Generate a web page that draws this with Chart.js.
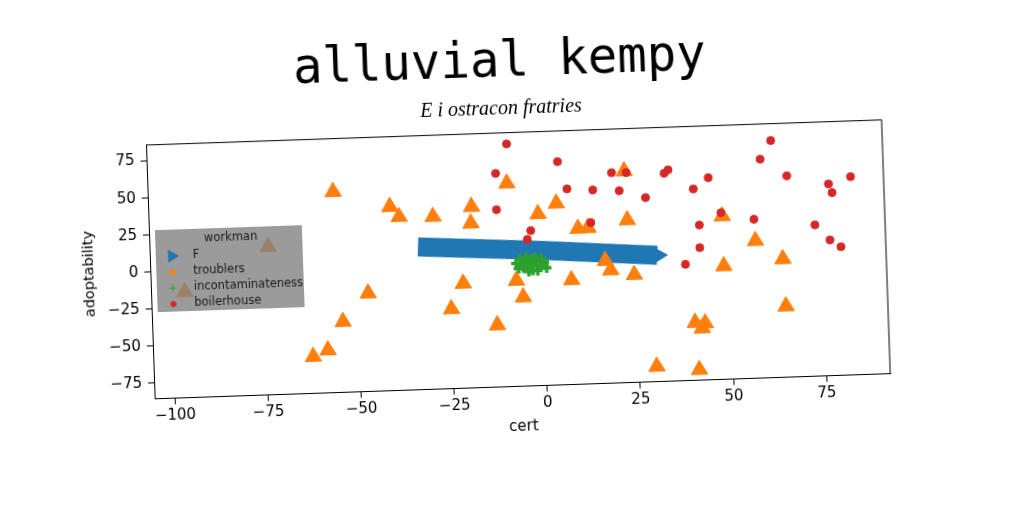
<!DOCTYPE html>
<html>
<head>
<meta charset="utf-8">
<script src="https://cdn.jsdelivr.net/npm/chart.js@4.4.1/dist/chart.umd.min.js"></script>
<style>
  html, body { margin: 0; padding: 0; background: #fff; overflow: hidden; width: 1024px; height: 512px; }
  #wrap { width: 1024px; height: 512px; transform: rotate(-1.96deg); transform-origin: 512px 256px; }
</style>
</head>
<body>
<div id="wrap"><canvas id="c" width="1024" height="512"></canvas></div>
<script>
// texts
const TITLE = "alluvial kempy";
const SUBTITLE = "E i ostracon fratries";
const X_LABEL = "cert";
const Y_LABEL = "adoptability";
const LEGEND_TITLE = "workman";
const SERIES = ["F", "troublers", "incontaminateness", "boilerhouse"];

// axes
const X_MIN = -105.45, X_MAX = 92.15;
const Y_MIN = -85.6, Y_MAX = 85.8;
const xTicks = [-100, -75, -50, -25, 0, 25, 50, 75];
const yTicks = [-75, -50, -25, 0, 25, 50, 75];

// F (dense band read as its ends and middle)
const fX = [-33.4, 0.1, 30.7];
const fY = [10.8, 5.5, -0.4];

// troublers
const trX = [-55.7, -40.6, -38.2, -29.1, -18.7, -19.0, -9.0, -0.9, -21.6, -47.2, -25.0, -7.3, -5.6,
  -12.8, -54.2, -58.5, -62.5, -73.6, -96.4, 22.6, 4.1, 23.0, 9.7, 12.4, 48.5, 57.2, 16.7, 18.1,
  24.4, 48.5, 64.4, 7.5, 40.3, 43.0, 42.1, 64.8, 29.6, 41.0];
const trY = [50.0, 38.6, 31.6, 30.9, 36.7, 25.5, 51.7, 30.3, -14.8, -19.3, -31.8, -14.1, -25.4,
  -43.7, -37.9, -56.7, -60.8, 14.4, -14.0, 57.2, 37.0, 24.1, 19.5, 19.8, 24.6, 7.2, -2.8, -9.2,
  -12.9, -9.1, -5.7, -15.0, -46.6, -47.2, -50.5, -37.6, -75.3, -78.5];

// incontaminateness
const inX = [-7.2, -6.1, -5.3, -4.4, -3.6, -2.8, -1.9, -1.0, 0.3, 0.9, -6.6, -5.0, -3.9, -2.2,
  -0.6, -4.8, -3.0, -1.5, -5.8, 0.2];
const inY = [-2.5, 0.4, -5.8, 1.2, -3.1, -7.6, -0.8, -4.9, -2.2, -6.3, -6.1, -1.9, -8.2, 1.0,
  0.2, -4.4, -0.2, -7.9, -3.9, -4.0];

// boilerhouse
const boX = [-8.7, 4.8, -11.9, 19.2, 23.1, 33.3, 34.4, 45.1, 62.2, 59.2, 66.2, 83.3, 77.3, 78.2,
  7.1, 14.0, 21.1, 28.1, 41.0, -12.0, 48.2, 57.0, 13.2, -3.0, -4.0, 42.3, 73.3, 77.2, 80.1, 42.2, 38.2];
const boY = [78.2, 65.1, 58.6, 56.4, 56.1, 54.8, 57.0, 50.8, 74.4, 62.1, 50.2, 48.2, 43.8, 37.9,
  46.5, 45.2, 44.1, 38.8, 43.6, 34.1, 26.9, 21.7, 23.2, 19.2, 13.4, 19.1, 16.5, 6.0, 1.2, 3.8, -7.1];

const BLUE = "#1f77b4", ORANGE = "#ff7f0e", GREEN = "#2ca02c", RED = "#d62728";
const FONT = "'DejaVu Sans', sans-serif";

const pts = (xs, ys) => xs.map((x, i) => ({ x, y: ys[i] }));
const pm = (v) => (v < 0 ? "\u2212" + Math.abs(v) : String(v));

// top/right spines
const framePlugin = {
  id: "frame",
  afterDatasetsDraw(chart) {
    const { ctx, chartArea: a } = chart;
    ctx.save();
    ctx.strokeStyle = "#000";
    ctx.lineWidth = 1;
    ctx.beginPath();
    ctx.moveTo(a.left, a.top);
    ctx.lineTo(a.right, a.top);
    ctx.lineTo(a.right, a.bottom);
    ctx.stroke();
    ctx.restore();
  },
};

// legend box inside the plot, like matplotlib's
const boxLegend = {
  id: "boxLegend",
  afterDraw(chart) {
    const { ctx, chartArea: a } = chart;
    const left = a.left + 6, top = a.top + 85.4, w = 147, h = 82;
    const marks = [
      { pointStyle: "triangle", rotation: 90, radius: 7.5, borderWidth: 0 },
      { pointStyle: "triangle", rotation: 0, radius: 4.5, borderWidth: 0 },
      { pointStyle: "cross", rotation: 0, radius: 4, borderWidth: 2.5 },
      { pointStyle: "circle", rotation: 0, radius: 3, borderWidth: 0 },
    ];
    ctx.save();
    ctx.fillStyle = "rgba(130,130,130,0.8)";
    ctx.fillRect(left, top, w, h);
    ctx.fillStyle = "#1a1a1a";
    ctx.font = "11.5px " + FONT;
    ctx.textBaseline = "middle";
    ctx.textAlign = "center";
    ctx.fillText(LEGEND_TITLE, left + w / 2 + 2, top + 10);
    ctx.textAlign = "left";
    chart.data.datasets.forEach((ds, i) => {
      const y = top + 26.5 + i * 16;
      const col = ds.borderColor;
      ctx.fillStyle = col;
      ctx.strokeStyle = col;
      Chart.helpers.drawPoint(ctx, marks[i], left + 16, y);
      ctx.fillStyle = "#1a1a1a";
      ctx.fillText(ds.label, left + 37, y);
    });
    ctx.restore();
  },
};

new Chart(document.getElementById("c"), {
  type: "scatter",
  data: {
    datasets: [
      {
        label: SERIES[0], data: pts(fX, fY), showLine: true,
        borderColor: BLUE, backgroundColor: BLUE, borderWidth: 19, borderCapStyle: "butt",
        pointStyle: "triangle", rotation: 90, pointBorderWidth: 0,
        pointRadius: fX.map((_, i) => (i === fX.length - 1 ? 11 : 0)),
        order: 4,
      },
      {
        label: SERIES[1], data: pts(trX, trY),
        borderColor: ORANGE, backgroundColor: ORANGE, pointStyle: "triangle",
        pointRadius: 9.5, pointBorderWidth: 1, order: 3,
      },
      {
        label: SERIES[2], data: pts(inX, inY),
        borderColor: GREEN, backgroundColor: GREEN, pointStyle: "cross",
        pointRadius: 5, pointBorderWidth: 3.5, order: 2,
      },
      {
        label: SERIES[3], data: pts(boX, boY),
        borderColor: RED, backgroundColor: RED, pointStyle: "circle",
        pointRadius: 4, pointBorderWidth: 1, order: 1,
      },
    ],
  },
  options: {
    responsive: false,
    animation: false,
    layout: { padding: { left: 0, right: 12, top: 0, bottom: 0 }, autoPadding: false },
    plugins: {
      legend: { display: false },
      tooltip: { enabled: false },
      title: {
        display: true, text: TITLE, color: "#000",
        font: { family: "'DejaVu Sans Mono', monospace", size: 49, weight: "normal", lineHeight: 1.2 },
        padding: { top: 33.55, bottom: 0 },
      },
      subtitle: {
        display: true, text: SUBTITLE, color: "#000",
        font: { family: "'Liberation Serif', serif", size: 20, style: "italic", weight: "normal", lineHeight: 1.2 },
        padding: { top: 4.35, bottom: 11.9 },
      },
    },
    scales: {
      x: {
        type: "linear", min: X_MIN, max: X_MAX,
        afterBuildTicks: (s) => { s.ticks = xTicks.map((v) => ({ value: v })); },
        afterFit: (s) => { s.height = 125.4; },
        ticks: { callback: pm, color: "#000", font: { family: FONT, size: 15 }, padding: 3, maxRotation: 0, autoSkip: false },
        grid: { drawOnChartArea: false, drawTicks: true, tickLength: 6, color: "#000" },
        border: { color: "#000", width: 1 },
        title: { display: true, text: X_LABEL, color: "#000", font: { family: FONT, size: 15 }, padding: { top: 0, bottom: 75.6 } },
      },
      y: {
        type: "linear", min: Y_MIN, max: Y_MAX,
        afterBuildTicks: (s) => { s.ticks = yTicks.map((v) => ({ value: v })); },
        afterFit: (s) => { s.width = 150; },
        ticks: { callback: pm, color: "#000", font: { family: FONT, size: 15 }, padding: 6, autoSkip: false },
        grid: { drawOnChartArea: false, drawTicks: true, tickLength: 6, color: "#000" },
        border: { color: "#000", width: 1 },
        title: { display: true, text: Y_LABEL, color: "#000", font: { family: FONT, size: 14.5 }, padding: { top: 80.5, bottom: 0 } },
      },
      yR: {
        type: "linear", position: "right", display: true,
        afterFit: (s) => { s.width = 126; },
        ticks: { display: false },
        grid: { display: false },
        border: { display: false },
      },
    },
  },
  plugins: [framePlugin, boxLegend],
});
</script>
</body>
</html>
